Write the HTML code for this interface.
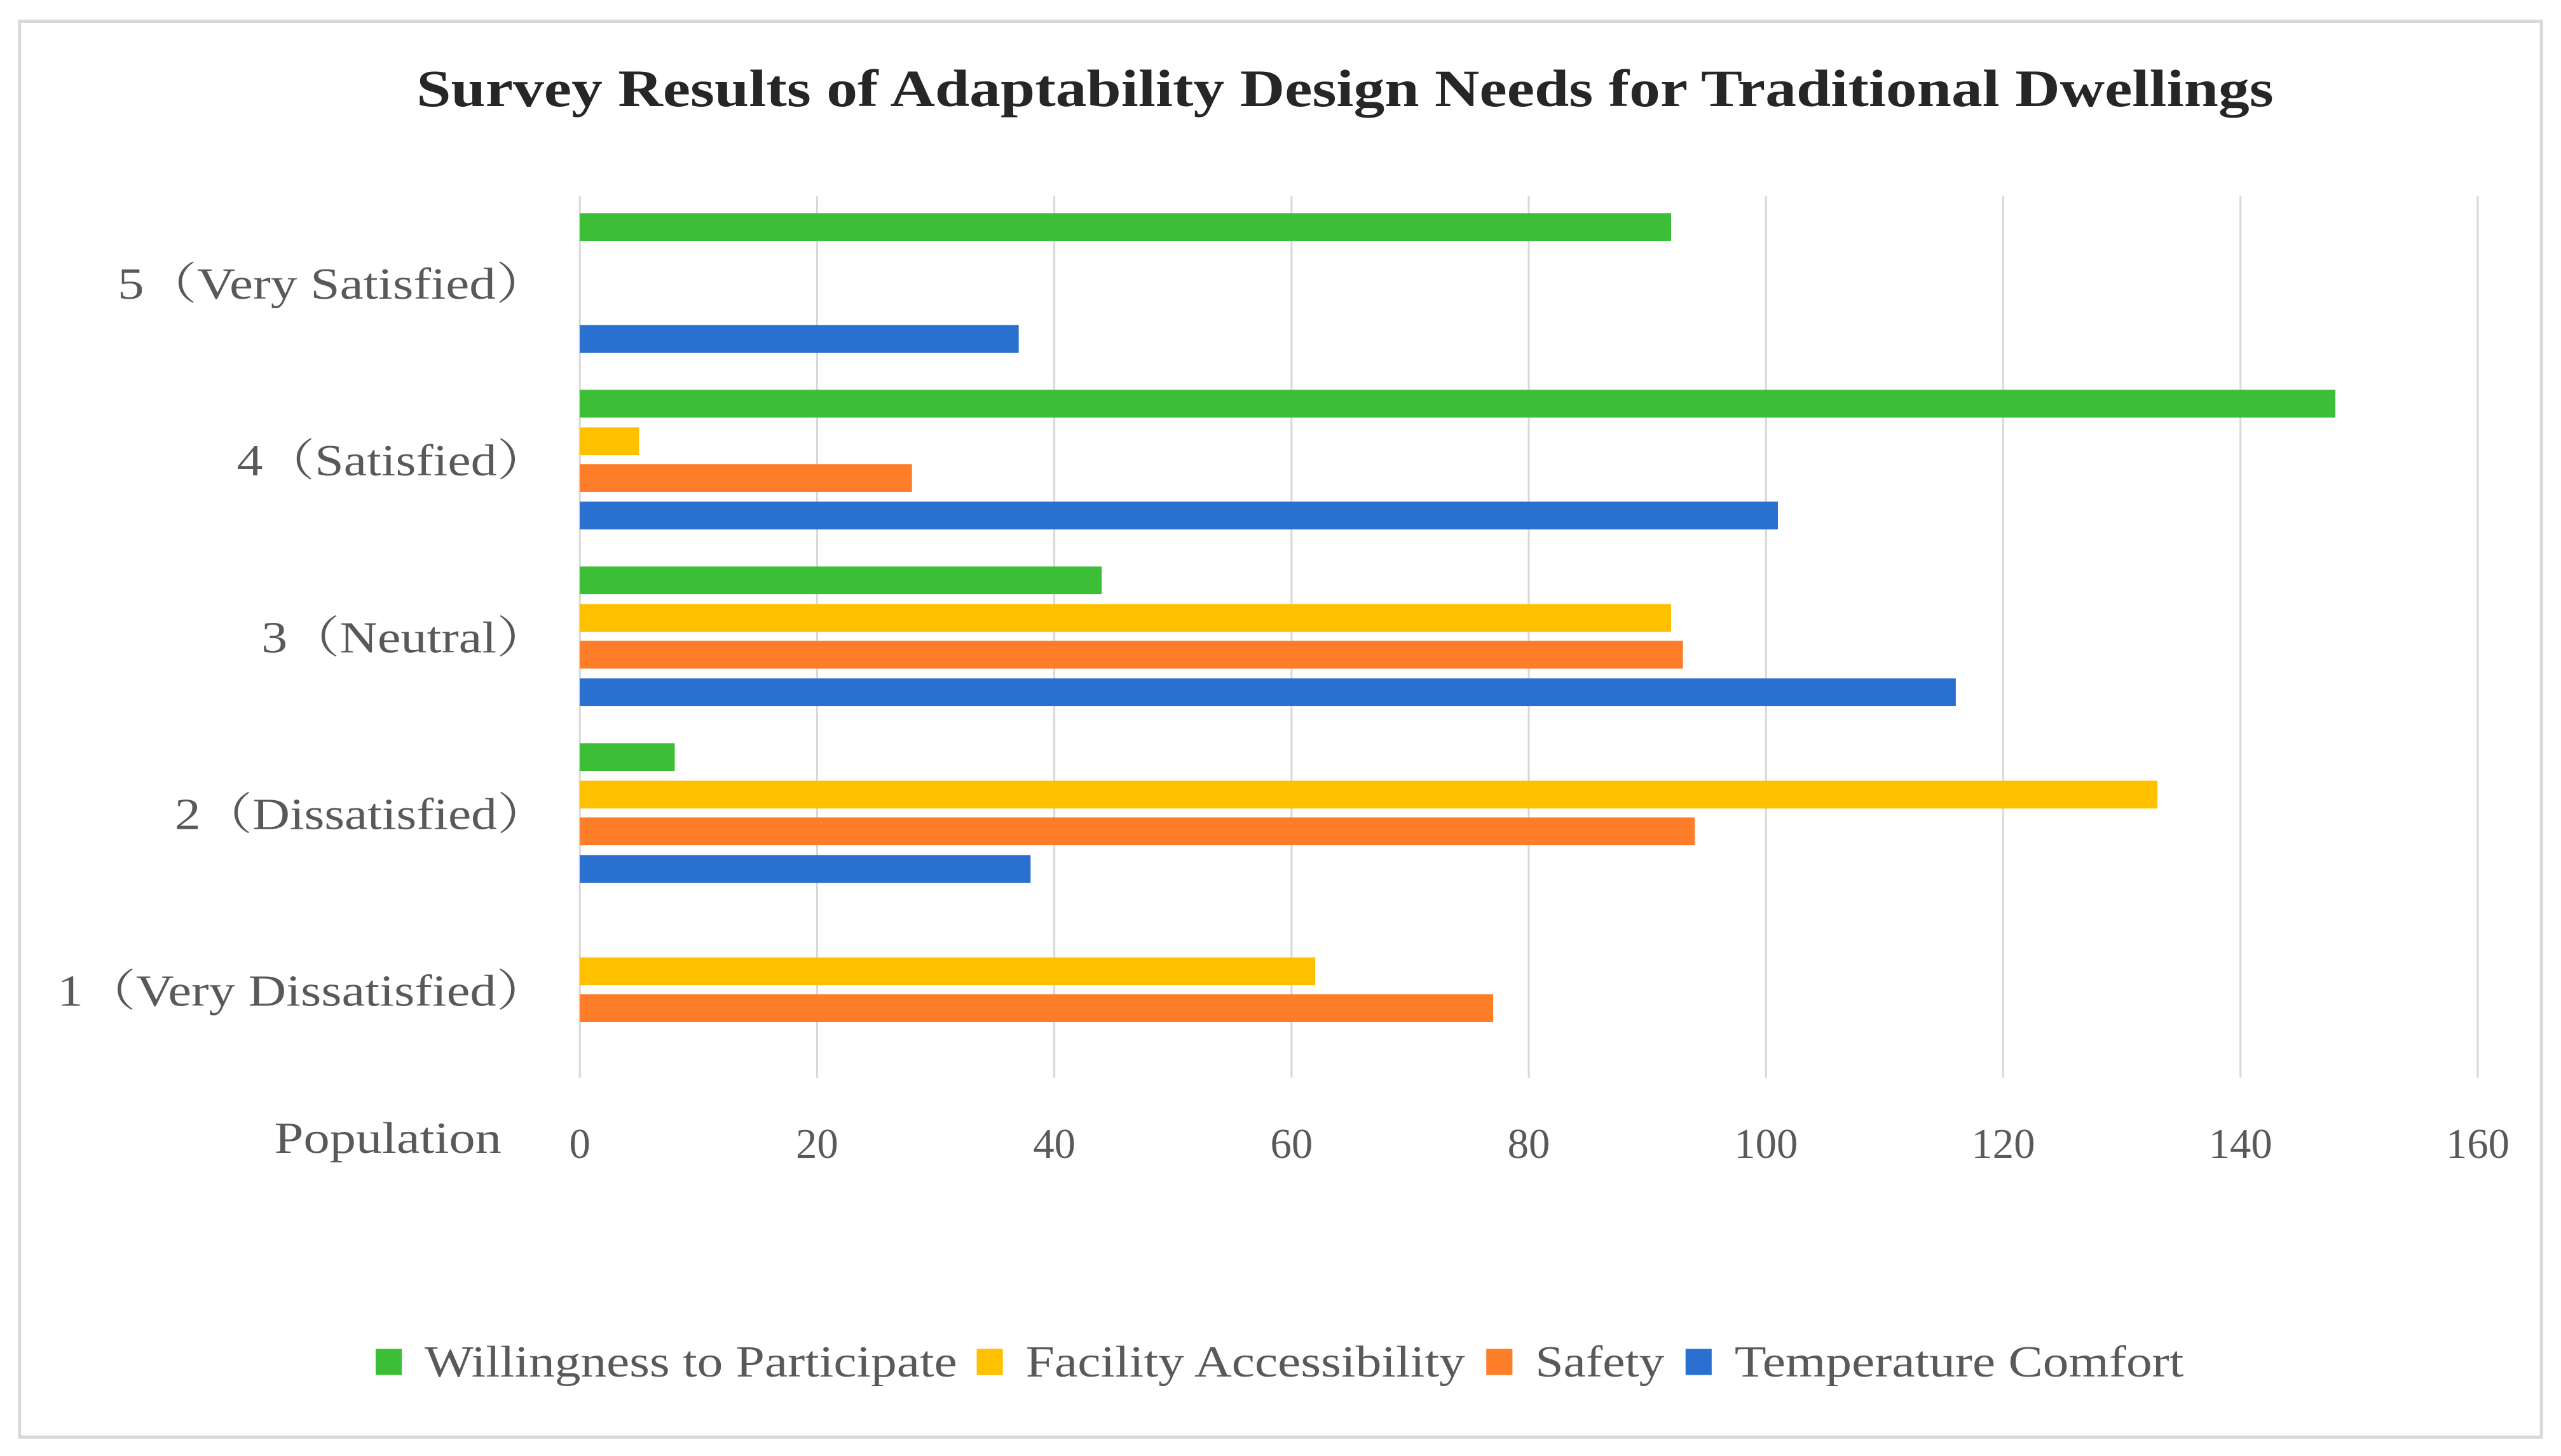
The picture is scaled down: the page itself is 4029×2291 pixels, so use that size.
<!DOCTYPE html>
<html><head><meta charset="utf-8"><style>
html,body{margin:0;padding:0;background:#fff;}
svg{display:block;}
text{font-family:"Liberation Serif","Noto Serif CJK SC",serif;}
</style></head><body>
<svg id="chart" width="4029" height="2291" viewBox="0 0 1568 891.6" preserveAspectRatio="none" xmlns="http://www.w3.org/2000/svg">
<rect x="12" y="13" width="1544" height="867" fill="#fff" stroke="#d9d9d9" stroke-width="2"/>
<text x="255" y="65" textLength="1137" lengthAdjust="spacingAndGlyphs" font-size="32" font-weight="bold" fill="#262626">Survey Results of Adaptability Design Needs for Traditional Dwellings</text>
<g id="grid"></g>
<g id="bars"></g>
<g id="labels"></g>
<text x="168" y="706" textLength="139" lengthAdjust="spacingAndGlyphs" font-size="27" fill="#595959">Population</text>
<g id="legend"></g>
</svg>
<script>
const categories = ["5（Very Satisfied）","4（Satisfied）","3（Neutral）","2（Dissatisfied）","1（Very Dissatisfied）"];
const seriesNames = ["Willingness to Participate","Facility Accessibility","Safety","Temperature Comfort"];
const willingness = [92,148,44,8,0];
const facility = [0,5,92,133,62];
const safety = [0,28,93,94,77];
const temperature = [37,101,116,38,0];
const ticks = [0,20,40,60,80,100,120,140,160];
const colors = ["#3cbf36","#ffc000","#fd7d28","#2a70d0"];
const series = [willingness, facility, safety, temperature];
const NS = "http://www.w3.org/2000/svg";
const x0 = 355, x1 = 1517, xMax = 160;
const xs = v => x0 + (x1 - x0) * v / xMax;
const yCenter = i => 174 + i * 108.2;
const offsets = [-35, -12, 10.5, 33.5];
const barH = 17;
const catStart = [72,145,160,107,35];
const legX=[230,598,910,1032];
const legW=[326,269,79,275];
function mk(tag, attrs){const e=document.createElementNS(NS,tag);for(const k in attrs)e.setAttribute(k,attrs[k]);return e;}
const grid=document.getElementById('grid'), bars=document.getElementById('bars'), labels=document.getElementById('labels'), legend=document.getElementById('legend');
ticks.forEach(t=>{
  const l=mk('line',{x1:xs(t),x2:xs(t),y1:120,y2:660,stroke:'#d9d9d9','stroke-width':1.2});
  
  
  grid.appendChild(l);
  const tx=mk('text',{x:xs(t),y:709,'text-anchor':'middle','font-size':26,fill:'#595959'});
  tx.textContent=t;
  
  
  labels.appendChild(tx);
});
categories.forEach((c,i)=>{
  const tx=mk('text',{x:catStart[i],y:yCenter(i)+9,textLength:336-catStart[i],lengthAdjust:'spacingAndGlyphs','font-size':27,fill:'#595959'});
  tx.textContent=c;
  
  
  labels.appendChild(tx);
  series.forEach((s,j)=>{
    if(s[i]<=0) return;
    const r=mk('rect',{x:xs(0),y:yCenter(i)+offsets[j]-barH/2,width:xs(s[i])-xs(0),height:barH,fill:colors[j]});
    
    
    bars.appendChild(r);
  });
});
seriesNames.forEach((n,j)=>{
  const r=mk('rect',{x:legX[j],y:826,width:16,height:16,fill:colors[j]});
  
  
  legend.appendChild(r);
  const t=mk('text',{x:legX[j]+30,y:843,textLength:legW[j],lengthAdjust:'spacingAndGlyphs','font-size':27,fill:'#595959'});
  t.textContent=n;
  
  
  legend.appendChild(t);
});
</script>
</body></html>
